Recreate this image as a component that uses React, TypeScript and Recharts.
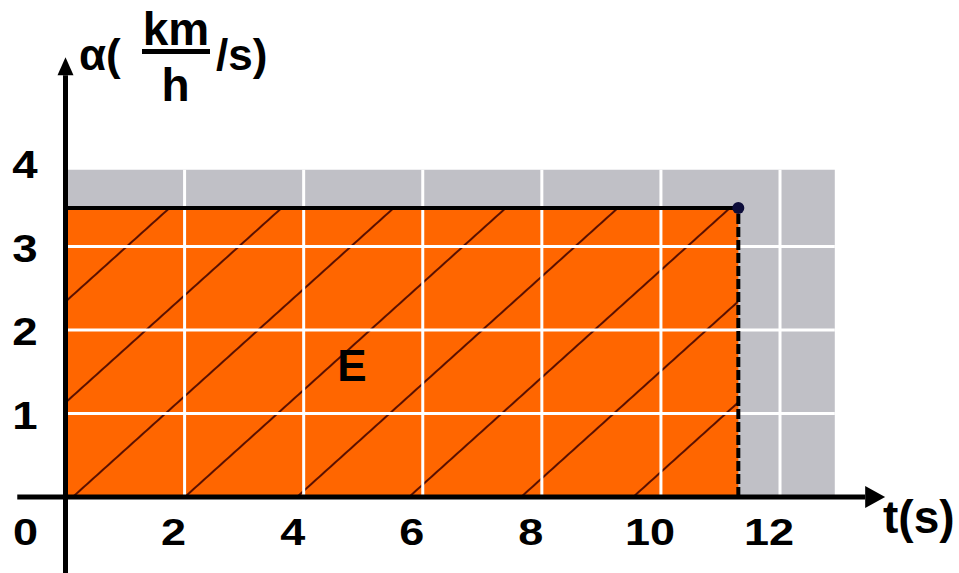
import React from 'react';
import {
  ComposedChart, Area, Line, XAxis, YAxis, ReferenceArea, ReferenceLine, ReferenceDot,
} from 'recharts';

// acceleration vs time, constant value until the end of the motion
const times = [0, 11.3];
const accel = [3.46, 3.46];
const gridTimes = [2, 4, 6, 8, 10, 12];
const gridAccels = [1, 2, 3];
const xTicks = [0, 2, 4, 6, 8, 10, 12];
const yTicks = [1, 2, 3, 4];
const panelEnd = { t: 12.92, a: 3.92 };
const areaLabel = { t: 4.81, a: 1.575, text: 'E' };

const data = times.map((t, i) => ({ t, a: accel[i] }));

const FONT = '"Liberation Sans", Arial, sans-serif';
const ORANGE = '#ff6600';
const PANEL = '#c0c0c6';

const arrowShape = (len: number, half: number) => (p: any) => {
  const { x1, y1, x2, y2 } = p;
  const dx = x2 - x1;
  const dy = y2 - y1;
  const d = Math.hypot(dx, dy) || 1;
  const ux = dx / d;
  const uy = dy / d;
  const tipX = x2 + ux * len;
  const tipY = y2 + uy * len;
  const points = `${tipX},${tipY} ${x2 - uy * half},${y2 + ux * half} ${x2 + uy * half},${y2 - ux * half}`;
  return (
    <g>
      <line x1={x1} y1={y1} x2={x2} y2={y2} stroke="#000" strokeWidth={5} />
      <polygon points={points} fill="#000" />
    </g>
  );
};

const XTick = (props: any) => {
  const { x, payload } = props;
  const cx = payload.value === 0 ? x - 40 : x - 11;
  return (
    <text transform={`translate(${cx},545) scale(1.25,1)`} textAnchor="middle"
      fontSize={36} fontWeight="bold" fontFamily={FONT} fill="#000">
      {payload.value}
    </text>
  );
};

const YTick = (props: any) => {
  const { y, payload } = props;
  return (
    <text transform={`translate(25,${y + 15}) scale(1.2,1)`} textAnchor="middle"
      fontSize={38} fontWeight="bold" fontFamily={FONT} fill="#000">
      {payload.value}
    </text>
  );
};

const YTitle = () => (
  <g fontFamily={FONT} fontWeight="bold" fill="#000">
    <text x={79} y={70} fontSize={44}>α(</text>
    <text x={176} y={45} fontSize={46} textAnchor="middle">km</text>
    <line x1={142} y1={51.5} x2={210} y2={51.5} stroke="#000" strokeWidth={5} />
    <text x={175.5} y={101} fontSize={46} textAnchor="middle">h</text>
    <text x={216} y={70} fontSize={44}>/s)</text>
  </g>
);

const XTitle = () => (
  <text x={883} y={533} fontSize={46} fontWeight="bold" fontFamily={FONT} fill="#000">t(s)</text>
);

export default function App() {
  return (
    <div style={{ position: 'absolute', left: 0, top: 0, width: 959, height: 573, background: '#fff' }}>
      <ComposedChart width={959} height={573} data={data}
        margin={{ top: 79.5, right: 59.9, bottom: 0, left: 0 }}>
        <defs>
          <pattern id="hatch" patternUnits="userSpaceOnUse" width={75} height={75}
            patternTransform="rotate(48)">
            <line x1={43} y1={0} x2={43} y2={75} stroke="#5a1000" strokeWidth={2} />
          </pattern>
        </defs>
        <XAxis dataKey="t" type="number" domain={[0, 14]} ticks={xTicks} interval={0}
          axisLine={false} tickLine={false} height={76} tick={<XTick />}
          label={{ content: () => <XTitle /> }} />
        <YAxis type="number" domain={[0, 5]} ticks={yTicks} interval={0}
          axisLine={false} tickLine={false} width={65.5} tick={<YTick />}
          label={{ content: () => <YTitle /> }} />

        <ReferenceArea x1={0} x2={panelEnd.t} y1={0} y2={panelEnd.a}
          fill={PANEL} fillOpacity={1} stroke="none" zIndex={-20} />

        <Area dataKey="a" type="linear" fill={ORANGE} fillOpacity={1} stroke="none"
          isAnimationActive={false} zIndex={10} />
        <Area dataKey="a" type="linear" fill="url(#hatch)" fillOpacity={1} stroke="none"
          isAnimationActive={false} zIndex={20} />

        {gridTimes.map((t) => (
          <ReferenceLine key={`gv${t}`} segment={[{ x: t, y: 0 }, { x: t, y: panelEnd.a }]}
            stroke="#fff" strokeWidth={3} zIndex={30} />
        ))}
        {gridAccels.map((a) => (
          <ReferenceLine key={`gh${a}`} segment={[{ x: 0, y: a }, { x: panelEnd.t, y: a }]}
            stroke="#fff" strokeWidth={3} zIndex={30} />
        ))}

        <Line dataKey="a" type="linear" stroke="#000" strokeWidth={4} dot={false}
          isAnimationActive={false} zIndex={40} />
        <ReferenceLine
          segment={[{ x: times[1], y: 0 }, { x: times[1], y: accel[1] }]}
          stroke="#000" strokeWidth={4} strokeDasharray="10 3" zIndex={40} />

        <ReferenceLine ifOverflow="visible" zIndex={50}
          segment={[{ x: 0, y: -0.91 }, { x: 0, y: 5.05 }]} shape={arrowShape(18, 8)} />
        <ReferenceLine ifOverflow="visible" zIndex={50}
          segment={[{ x: -0.81, y: 0 }, { x: 13.43, y: 0 }]} shape={arrowShape(20, 11)} />

        <ReferenceDot x={times[1]} y={accel[1]} r={6} fill="#0d0d3a" stroke="none" zIndex={60} />
        <ReferenceDot x={areaLabel.t} y={areaLabel.a} r={0} zIndex={70}
          shape={(p: any) => (
            <text x={p.cx} y={p.cy + 16} textAnchor="middle" fontSize={44}
              fontWeight="bold" fontFamily={FONT} fill="#000">{areaLabel.text}</text>
          )} />
      </ComposedChart>
    </div>
  );
}
